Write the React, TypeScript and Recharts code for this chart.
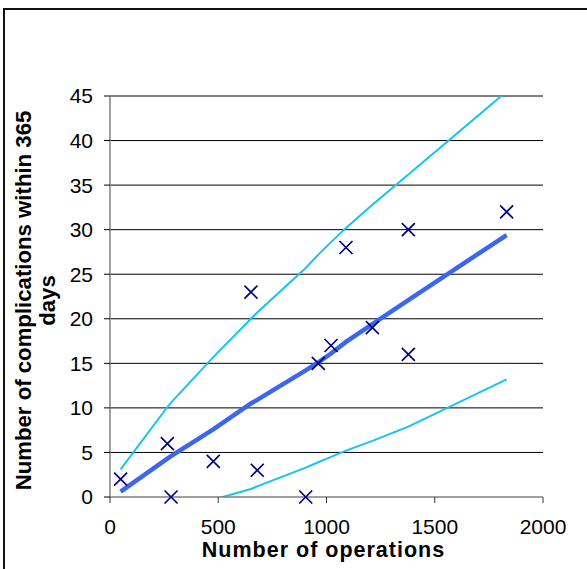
import {
  CartesianGrid,
  ComposedChart,
  Line,
  Scatter,
  XAxis,
  YAxis,
} from "recharts";

const FONT = '"Liberation Sans", Arial, Helvetica, sans-serif';

// observed cases: operations per surgeon vs complications within a year
const opCount = [49, 265, 282, 477, 651, 680, 904, 962, 1021, 1090, 1212, 1378, 1378, 1832];
const complications = [2, 6, 0, 4, 23, 3, 0, 15, 17, 28, 19, 30, 16, 32];

// fitted line and its upper / lower limits, sampled at the observed x values
const curveX = [49, 265, 282, 477, 651, 680, 904, 962, 1021, 1090, 1212, 1378, 1832];
const fitted = [0.6, 4.3, 4.6, 7.6, 10.5, 10.9, 14.2, 15.1, 16.1, 17.4, 19.4, 22.1, 29.4];
const upperLimit = [3.1, 10.1, 10.6, 15.7, 20.0, 20.7, 25.7, 27.2, 28.6, 30.2, 32.8, 36.2, 45.5];
const lowerLimit = [null, null, null, -0.3, 0.9, 1.2, 3.3, 3.9, 4.5, 5.2, 6.3, 7.9, 13.2];

const xTicks = [0, 500, 1000, 1500, 2000];
const yTicks = [0, 5, 10, 15, 20, 25, 30, 35, 40, 45];

const xTitle = "Number of operations";
const yTitle = ["Number of complications within 365", "days"];

function CrossMark(props: any) {
  const { cx, cy } = props;
  if (cx == null || cy == null) return null;
  const r = 6.5;
  return (
    <path
      d={`M${cx - r},${cy - r}L${cx + r},${cy + r}M${cx - r},${cy + r}L${cx + r},${cy - r}`}
      stroke="#000080"
      strokeWidth={1.7}
      fill="none"
    />
  );
}

function YTitle(props: any) {
  const vb = props.viewBox || { y: 96, height: 401 };
  const cy = vb.y + vb.height / 2 + 4;
  return (
    <g fontFamily={FONT} fontWeight="bold" fontSize={22.2} fill="#000">
      <text x={31} y={cy} textAnchor="middle" transform={`rotate(-90, 31, ${cy})`}>
        {yTitle[0]}
      </text>
      <text x={55} y={cy} textAnchor="middle" transform={`rotate(-90, 55, ${cy})`}>
        {yTitle[1]}
      </text>
    </g>
  );
}

function XTitle(props: any) {
  const vb = props.viewBox || { x: 110, width: 433 };
  const cx = vb.x + vb.width / 2 - 3;
  return (
    <text
      x={cx}
      y={557}
      textAnchor="middle"
      fontFamily={FONT}
      fontWeight="bold"
      fontSize={21.5}
      letterSpacing={1}
      fill="#000"
    >
      {xTitle}
    </text>
  );
}

export default function App() {
  const points = opCount.map((x, i) => ({ x, y: complications[i] }));
  const curves = curveX.map((x, i) => ({
    x,
    fit: fitted[i],
    upper: upperLimit[i],
    lower: lowerLimit[i],
  }));

  return (
    <div
      style={{
        position: "absolute",
        left: 0,
        top: 0,
        width: 587,
        height: 569,
        overflow: "hidden",
        background: "#fff",
        fontFamily: FONT,
      }}
    >
      <div
        style={{
          position: "absolute",
          left: 3,
          top: 8,
          width: 700,
          height: 700,
          borderLeft: "2px solid #111",
          borderTop: "2px solid #111",
        }}
      />
      <div style={{ position: "absolute", left: 0, top: 0 }}>
        <ComposedChart
          width={587}
          height={569}
          data={curves}
          margin={{ top: 96, right: 44, bottom: 32, left: 50 }}
        >
          <CartesianGrid
            vertical={false}
            horizontalValues={yTicks.filter((t) => t > 0)}
            stroke="#000"
            strokeWidth={1}
          />
          <XAxis
            dataKey="x"
            type="number"
            domain={[0, 2000]}
            ticks={xTicks}
            height={40}
            tickSize={6}
            tickMargin={16}
            axisLine={{ stroke: "#808080", strokeWidth: 1.5 }}
            tickLine={{ stroke: "#333" }}
            tick={{ fill: "#000", fontSize: 21, fontFamily: FONT }}
            label={XTitle}
          />
          <YAxis
            type="number"
            domain={[0, 45]}
            ticks={yTicks}
            allowDataOverflow
            width={60}
            tickSize={6}
            tickMargin={11}
            axisLine={{ stroke: "#808080", strokeWidth: 1.5 }}
            tickLine={{ stroke: "#000" }}
            tick={{ fill: "#000", fontSize: 21, fontFamily: FONT }}
            label={YTitle}
          />
          {/* same scale for the markers, without clipping so crosses at 0 stay whole */}
          <YAxis yAxisId="pts" type="number" domain={[0, 45]} hide width={0} />
          <Line
            type="linear"
            dataKey="upper"
            stroke="#14C4F2"
            strokeWidth={2}
            dot={false}
            activeDot={false}
            isAnimationActive={false}
          />
          <Line
            type="linear"
            dataKey="lower"
            stroke="#14C4F2"
            strokeWidth={2}
            dot={false}
            activeDot={false}
            isAnimationActive={false}
          />
          <Line
            type="linear"
            dataKey="fit"
            stroke="#3D66EE"
            strokeWidth={4.5}
            dot={false}
            activeDot={false}
            isAnimationActive={false}
          />
          <Scatter
            yAxisId="pts"
            data={points}
            dataKey="y"
            shape={CrossMark}
            isAnimationActive={false}
          />
        </ComposedChart>
      </div>
    </div>
  );
}
